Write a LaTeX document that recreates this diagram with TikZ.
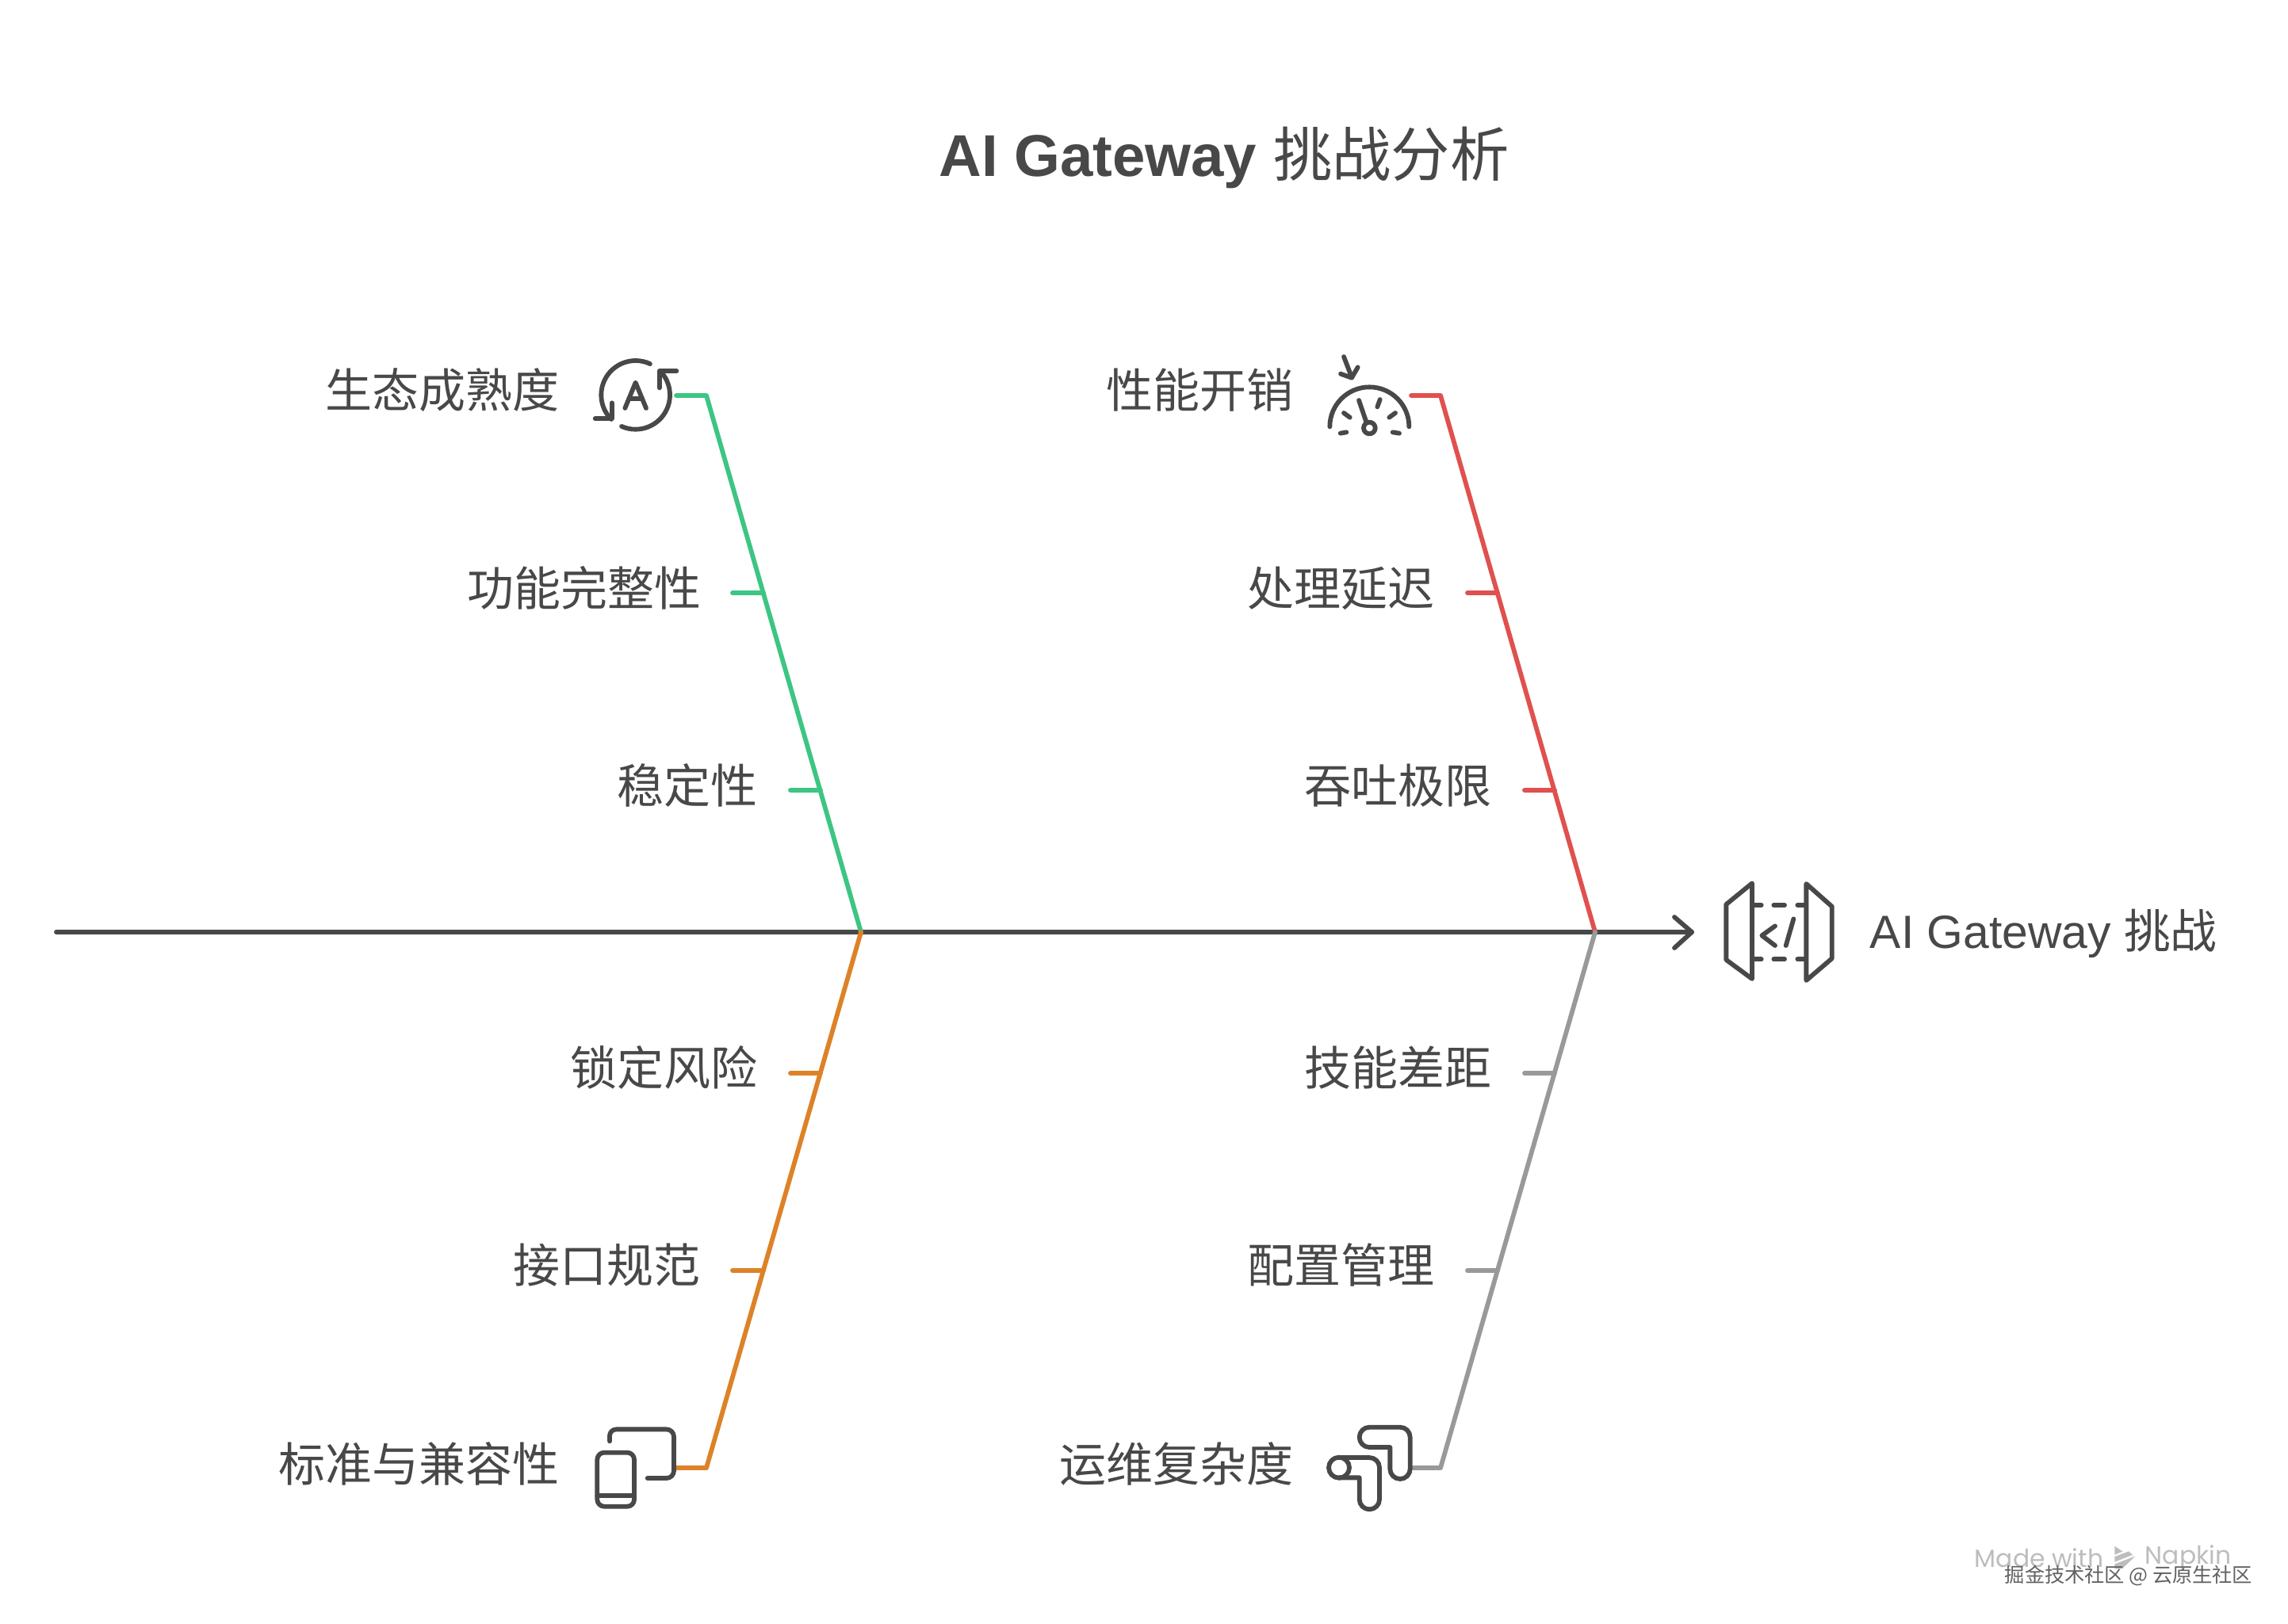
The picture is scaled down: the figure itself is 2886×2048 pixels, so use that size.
\documentclass[tikz,border=0pt]{standalone}
\usepackage{fontspec}
\usetikzlibrary{arrows.meta}
\setmainfont{Liberation Sans}
\newfontfamily\cjk{Noto Sans CJK SC}
\newfontfamily\napkin{Poppins}
\definecolor{ink}{HTML}{484848}
\definecolor{cgreen}{HTML}{3CC583}
\definecolor{cred}{HTML}{E0504F}
\definecolor{corange}{HTML}{DD8228}
\definecolor{cgray}{HTML}{999999}
\definecolor{wm}{HTML}{BDBDBD}
\tikzset{
  lab/.style={anchor=east,inner sep=0pt,text=ink,font=\cjk\fontsize{14.75}{16}\selectfont,text height=11.5pt,text depth=2.5pt},
  branch/.style={line width=1.45pt,line cap=round,line join=round},
  icon/.style={draw=ink,line width=1.45pt,line cap=round,line join=round},
  spine/.style={draw=ink,line width=1.45pt,line cap=round,line join=round},
}
\begin{document}
\begin{tikzpicture}[x=0.25pt,y=-0.25pt]
\useasboundingbox[fill=white] (0,0) rectangle (2886,2048);
% title
\node[inner sep=0pt,text=ink,anchor=center,text height=14.5pt,text depth=3.5pt] (title) at (1544,200) {\fontsize{18.6}{20}\selectfont\bfseries AI Gateway {\cjk\mdseries 挑战分析}};
% spine
\coordinate (tail) at (71,1176);
\coordinate (jl) at (1086,1176);
\coordinate (jr) at (2012,1176);
\coordinate (head) at (2134,1176);
\draw[spine] (tail) -- (head);
\draw[spine] (2112,1157) -- (head) -- (2112,1196);
% branch joints
\coordinate (g0) at (853,499); \coordinate (g1) at (891,499);
\coordinate (r0) at (1780,499); \coordinate (r1) at (1817,499);
\coordinate (o0) at (853,1852); \coordinate (o1) at (891,1852);
\coordinate (k0) at (1782,1852); \coordinate (k1) at (1817,1852);
\coordinate (g2a) at (924,748); \coordinate (g2b) at (963,748);
\coordinate (g3a) at (997,997); \coordinate (g3b) at (1035,997);
\coordinate (r2a) at (1851,748); \coordinate (r2b) at (1889,748);
\coordinate (r3a) at (1923,997); \coordinate (r3b) at (1961,997);
\coordinate (o2a) at (997,1354); \coordinate (o2b) at (1035,1354);
\coordinate (o3a) at (924,1603); \coordinate (o3b) at (963,1603);
\coordinate (k2a) at (1923,1354); \coordinate (k2b) at (1961,1354);
\coordinate (k3a) at (1851,1603); \coordinate (k3b) at (1889,1603);
\draw[branch,cgreen] (g0) -- (g1) -- (jl);
\draw[branch,cgreen] (g2a) -- (g2b);
\draw[branch,cgreen] (g3a) -- (g3b);
\draw[branch,cred] (r0) -- (r1) -- (jr);
\draw[branch,cred] (r2a) -- (r2b);
\draw[branch,cred] (r3a) -- (r3b);
\draw[branch,corange] (o0) -- (o1) -- (jl);
\draw[branch,corange] (o2a) -- (o2b);
\draw[branch,corange] (o3a) -- (o3b);
\draw[branch,cgray] (k0) -- (k1) -- (jr);
\draw[branch,cgray] (k2a) -- (k2b);
\draw[branch,cgray] (k3a) -- (k3b);
% labels
\node[lab] (n1) at (706,496) {生态成熟度};
\node[lab] (n2) at (885,746) {功能完整性};
\node[lab] (n3) at (956,995) {稳定性};
\node[lab] (n4) at (1632,496) {性能开销};
\node[lab] (n5) at (1810,746) {处理延迟};
\node[lab] (n6) at (1882,995) {吞吐极限};
\node[lab] (n7) at (956,1351) {锁定风险};
\node[lab] (n8) at (884,1600) {接口规范};
\node[lab] (n9) at (706,1851) {标准与兼容性};
\node[lab] (n10) at (1882,1351) {技能差距};
\node[lab] (n11) at (1810,1600) {配置管理};
\node[lab] (n12) at (1632,1851) {运维复杂度};
\node[inner sep=0pt,anchor=west,text=ink,text height=11.5pt,text depth=2.5pt] (n13) at (2358,1178) {\fontsize{14.7}{16}\selectfont AI Gateway {\cjk 挑战}};
% icon A (zoom origin 720,420; factor 1/3)
\begin{scope}[shift={(720,420)},x=0.08333pt,y=-0.08333pt]
\draw[icon] (245,235) ++(-65:130) arc[start angle=-65,end angle=-225,radius=130];
\draw[icon] (245,235) ++(-246:130) arc[start angle=-246,end angle=-403,radius=130];
\draw[icon] (400,145) -- (335,145) -- (335,208);
\draw[icon] (92,325) -- (155,325) -- (155,265);
\draw[icon] (205,285) -- (245,188) -- (285,285);
\draw[icon] (220,250) -- (270,250);
\end{scope}
% icon gauge
\begin{scope}[shift={(1640,420)},x=0.08333pt,y=-0.08333pt]
\draw[icon] (112,355) arc[start angle=-180,end angle=0,radius=150];
\draw[icon] (222,255) -- (250,337);
\draw[icon] (262,360) circle[radius=22];
\draw[icon] (152,380) -- (175,376);
\draw[icon] (165,303) -- (188,320);
\draw[icon] (292,280) -- (302,252);
\draw[icon] (337,320) -- (360,303);
\draw[icon] (350,376) -- (375,380);
\draw[icon] (165,90) -- (195,168);
\draw[icon] (153,155) -- (195,170) -- (218,130);
\end{scope}
% icon devices
\begin{scope}[shift={(720,1770)},x=0.08333pt,y=-0.08333pt]
\draw[icon] (147,145) -- (147,125) arc[start angle=-180,end angle=-90,radius=25] -- (362,100) arc[start angle=-90,end angle=0,radius=28] -- (390,257) arc[start angle=0,end angle=90,radius=28] -- (290,285);
\draw[icon,rounded corners=2.2pt] (100,188) rectangle (240,392);
\draw[icon] (100,350) -- (240,350);
\end{scope}
% icon ops
\begin{scope}[shift={(1640,1770)},x=0.08333pt,y=-0.08333pt]
\draw[icon] (262,92) -- (378,92) arc[start angle=-90,end angle=0,radius=38] -- (416,250) arc[start angle=0,end angle=180,radius=38] -- (340,168) -- (262,168) arc[start angle=90,end angle=270,radius=38];
\draw[icon] (147,207) -- (262,207) arc[start angle=-90,end angle=0,radius=38] -- (300,365) arc[start angle=0,end angle=180,radius=38] -- (224,283) -- (147,283);
\draw[icon] (147,245) circle[radius=39];
\end{scope}
% icon gateway
\begin{scope}[shift={(2090,1091)},x=0.08333pt,y=-0.08333pt]
\draw[icon] (360,70) -- (262,150) -- (262,360) -- (360,432) -- cycle;
\draw[icon] (565,72) -- (662,158) -- (662,355) -- (565,438) -- cycle;
\foreach \yy in {153,358}{
  \draw[icon] (365,\yy) -- (395,\yy);
  \draw[icon] (442,\yy) -- (483,\yy);
  \draw[icon] (532,\yy) -- (560,\yy);
}
\draw[icon] (447,232) -- (397,268) -- (447,306);
\draw[icon] (517,205) -- (488,306);
\end{scope}
% watermark
\node[inner sep=0pt,anchor=west,text=wm,font=\napkin\fontsize{7.85}{10}\selectfont] (wm1) at (2490,1966) {Made with};
\node[inner sep=0pt,anchor=west,text=wm,font=\napkin\fontsize{7.85}{10}\selectfont] (wm2) at (2705,1966) {Napkin};
\begin{scope}[shift={(2460,1920)},x=0.08333pt,y=-0.08333pt]
\fill[wm] (622,92) -- (652,112) -- (622,125) -- cycle;
\fill[wm] (622,132) -- (675,112) -- (690,125) -- (622,152) -- cycle;
\fill[wm] (622,160) -- (700,130) -- (650,178) -- (622,178) -- cycle;
\end{scope}
\node[inner sep=0pt,anchor=west,text=black!62,font=\cjk\fontsize{6.3}{8}\selectfont] (wm3) at (2528,1988) {掘金技术社区 @ 云原生社区};
\end{tikzpicture}
\end{document}
